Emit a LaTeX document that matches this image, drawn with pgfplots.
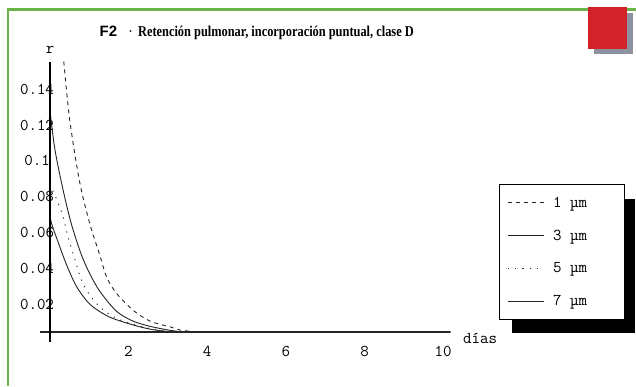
\documentclass[border=0pt]{standalone}
\usepackage{pgfplots}
\pgfplotsset{compat=1.18}
\usepackage{fontspec}
\usepackage{graphicx}
\newfontfamily\titlesans{Liberation Sans}
\newfontfamily\titleserif{Liberation Serif}
\definecolor{bordergreen}{RGB}{106,180,72}
\definecolor{boxred}{RGB}{211,35,42}
\definecolor{boxgray}{RGB}{140,146,160}
\newcommand{\tickfont}{\fontsize{16.5bp}{19bp}\selectfont\ttfamily}

\begin{document}
\begin{tikzpicture}[x=1bp,y=1bp]
\useasboundingbox (0,0) rectangle (636,386);
\fill[white] (0,0) rectangle (636,386);
\draw[bordergreen, line width=2.7bp] (636,376.7) -- (8,376.7) -- (8,0);
\fill[boxgray] (594,332) rectangle (632.7,373.3);
\fill[boxred] (588,337) rectangle (626.7,378.7);
% legend shadow
\fill[black] (511.7,53.3) rectangle (635,186.7);

\node[anchor=base west, inner sep=0] at (99.4,349.7) {\titlesans\bfseries\fontsize{15bp}{18bp}\selectfont F2};
\node[anchor=base, inner sep=0] at (130.6,349.7) {\titleserif\fontsize{15bp}{18bp}\selectfont ·};
\node[anchor=base west, inner sep=0] at (137.9,349.7) {\resizebox{275.7bp}{\height}{\titleserif\bfseries\fontsize{15bp}{18bp}\selectfont Retención pulmonar, incorporación puntual, clase D}};

\begin{axis}[
  at={(40bp,44.3bp)}, anchor=south west, scale only axis,
  width=410.7bp, height=280bp,
  xmin=-0.244, xmax=10.19, ymin=-0.001, ymax=0.1554,
  axis line style={draw=none},
  major tick length=0pt,
  xtick={2,4,6,8,10}, xticklabels={2,4,6,8,10},
  ytick={0.02,0.04,0.06,0.08,0.1,0.12,0.14},
  yticklabels={0.02,0.04,0.06,0.08,0.1,0.12,0.14},
  xticklabel style={anchor=center, yshift=-10bp, font=\tickfont},
  yticklabel style={anchor=center, xshift=-3bp, font=\tickfont},
  legend style={at={(1.1176,0.5632)}, anchor=north west, draw=black, line width=1bp, fill=white,
    inner xsep=8bp, inner ysep=2bp, column sep=9bp, row sep=0pt,
    nodes={inner sep=0pt, text height=20.7bp, text depth=12.1bp, font=\tickfont}},
  legend cell align=left,
  legend image code/.code={\draw[#1] (0bp,0bp) -- (35.7bp,0bp);},
]
\addplot[black!85, line width=0.9bp, dash pattern=on 4bp off 4bp, smooth] coordinates {
 (0.36,0.1555) (0.51,0.123) (0.765,0.088) (1.02,0.065) (1.28,0.047) (1.45,0.035)
 (1.7,0.026) (2.12,0.0166) (2.55,0.0105) (3.06,0.0073) (3.32,0.0055) (3.75,0.0044)};
\addlegendentry{\makebox[63bp][l]{1 µm}}
\addplot[black!85, line width=0.9bp, smooth] coordinates {
 (0,0.130) (0.13,0.107) (0.34,0.084) (0.55,0.065) (0.8,0.048) (1.02,0.037)
 (1.28,0.027) (1.7,0.016) (2.12,0.0105) (2.55,0.0076) (3.0,0.0056) (3.35,0.0045)};
\addlegendentry{\makebox[63bp][l]{3 µm}}
\addplot[black!85, line width=0.9bp, dash pattern=on 1.2bp off 6bp, smooth] coordinates {
 (0,0.087) (0.17,0.079) (0.34,0.069) (0.45,0.059) (0.6,0.048) (0.8,0.034)
 (1.02,0.025) (1.32,0.0175) (1.7,0.012) (2.12,0.0088) (2.6,0.0062) (3.3,0.0045)};
\addlegendentry{\makebox[63bp][l]{5 µm}}
\addplot[black!85, line width=0.9bp, smooth] coordinates {
 (0,0.071) (0.05,0.065) (0.21,0.055) (0.43,0.042) (0.68,0.030) (1.02,0.020)
 (1.5,0.013) (2.1,0.0085) (2.6,0.0058) (3.1,0.0045)};
\addlegendentry{\makebox[63bp][l]{7 µm}}
\draw[black!85, line width=1.1bp] (axis cs:-0.244,0.0044) -- (axis cs:10.19,0.0044);
\draw[black, line width=1.8bp] (axis cs:0,-0.001) -- (axis cs:0,0.1554);
\end{axis}

\node[font=\tickfont, inner sep=0] at (50,336) {r};
\node[font=\tickfont, anchor=base west, inner sep=0] at (463,43) {días};
\end{tikzpicture}
\end{document}
